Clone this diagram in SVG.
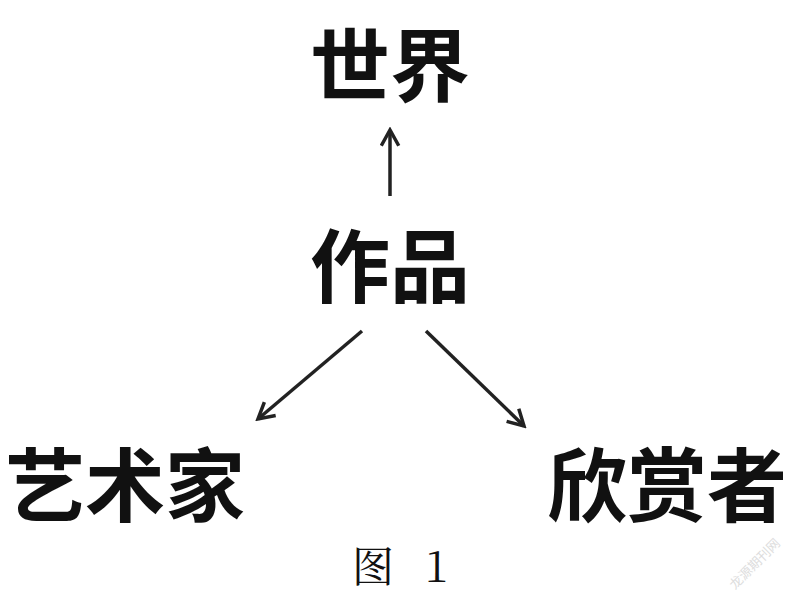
<svg xmlns="http://www.w3.org/2000/svg" width="800" height="605" viewBox="0 0 800 605">
<style>
.lbl{font-family:"Noto Sans CJK SC","Noto Sans CJK JP",sans-serif;font-weight:bold;font-size:80px;fill:#111;text-anchor:middle}
.cap{font-family:"Noto Serif CJK SC","Liberation Serif","Noto Sans CJK SC",serif;font-size:42px;fill:#111}
.edge{stroke:#222;stroke-width:3.5;fill:none;marker-end:url(#ah)}
.wm{font-family:"Noto Sans CJK SC",sans-serif;font-size:13px;fill:#ddd}
</style>
<defs>
<marker id="ah" viewBox="0 0 12 12" refX="10" refY="6" markerWidth="6" markerHeight="6" orient="auto" markerUnits="strokeWidth">
<path d="M1,1 L10,6 L1,11" fill="none" stroke="#222" stroke-width="2"/>
</marker>
</defs>
<rect width="800" height="605" fill="#fff"/>
<g id="world"><text class="lbl" x="390" y="95">世界</text></g>
<g id="work"><text class="lbl" x="390" y="296">作品</text></g>
<g id="artist"><text class="lbl" x="125" y="515">艺术家</text></g>
<g id="viewer"><text class="lbl" x="667" y="515">欣赏者</text></g>
<g id="connectors">
<line class="edge" x1="390" y1="196" x2="390" y2="130"/>
<line class="edge" x1="362" y1="331" x2="258" y2="419"/>
<line class="edge" x1="426" y1="331" x2="524" y2="426"/>
</g>
<text class="cap" x="352" y="582">图</text>
<text class="cap" x="425" y="582">1</text>
<text class="wm" x="735" y="590" transform="rotate(-45 735 590)">龙源期刊网</text>
</svg>
